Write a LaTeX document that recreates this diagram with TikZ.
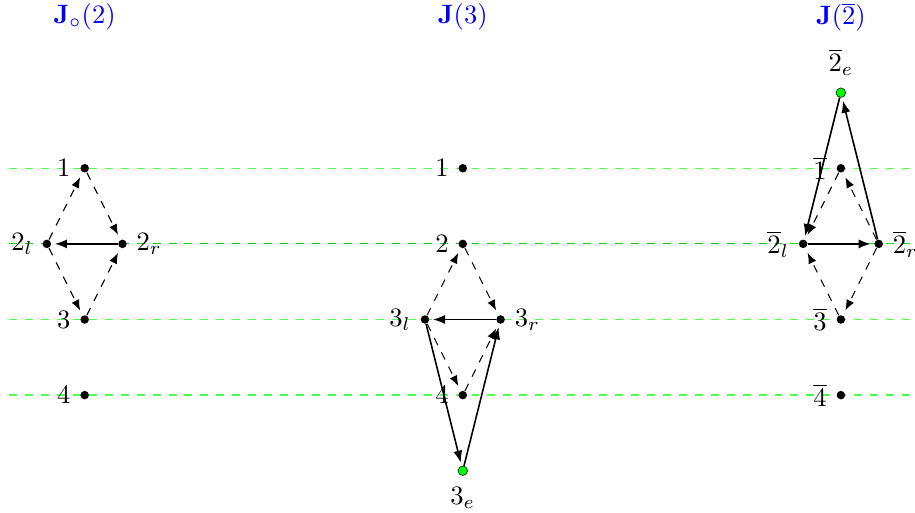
\documentclass[tikz,border=0pt]{standalone}
\usepackage{amsmath}
\usepackage{amssymb}
\usepackage{tikz}
\usetikzlibrary{arrows.meta}

\begin{document}
\begin{tikzpicture}[
  dot/.style={circle, fill=black, inner sep=0pt, minimum size=3.2pt},
  edot/.style={circle, draw=black, fill=green, inner sep=0pt, minimum size=3.6pt, very thin},
  ttl/.style={text=blue},
  lvl/.style={green!70, dashed, line width=0.5pt},
  lvlb/.style={green!85!black, dashed, line width=0.3pt},
  arr/.style={-{Latex[length=1.6mm, width=1.2mm]}, semithick, shorten >=1.2pt},
  darr/.style={-{Latex[length=1.4mm, width=1.1mm]}, thin, dashed, shorten >=2pt},
]
\useasboundingbox (-6.12,-4.55) rectangle (5.98,2.225);

% level lines
\foreach \y in {0,-2,-3}
  \draw[lvl] (-6,\y) -- (6,\y);
\draw[lvlb] (-6,-1) -- (6,-1);

% titles
\node[ttl] (tl) at (-5,2) {$\mathbf{J}_\circ(2)$};
\node[ttl] (tm) at (0,2) {$\mathbf{J}(3)$};
\node[ttl] (tr) at (5,2) {$\mathbf{J}(\overline{2})$};

% J_o(2)
\node[dot, label=left:$1$] (l1) at (-5,0) {};
\node[dot, label=left:$2_l$] (l2l) at (-5.5,-1) {};
\node[dot, label=right:$2_r$] (l2r) at (-4.5,-1) {};
\node[dot, label=left:$3$] (l3) at (-5,-2) {};
\node[dot, label=left:$4$] (l4) at (-5,-3) {};
\draw[darr] (l2l) -- (l1);
\draw[darr] (l1) -- (l2r);
\draw[darr] (l2l) -- (l3);
\draw[darr] (l3) -- (l2r);
\draw[arr] (l2r) -- (l2l);

% J(3)
\node[dot, label=left:$1$] (m1) at (0,0) {};
\node[dot, label=left:$2$] (m2) at (0,-1) {};
\node[dot, label=left:$3_l$] (m3l) at (-0.5,-2) {};
\node[dot, label=right:$3_r$] (m3r) at (0.5,-2) {};
\node[dot, label=left:$4$] (m4) at (0,-3) {};
\node[edot, label={[yshift=-1pt]below:$3_e$}] (m3e) at (0,-4) {};
\draw[darr] (m3l) -- (m2);
\draw[darr] (m2) -- (m3r);
\draw[darr] (m3l) -- (m4);
\draw[darr] (m4) -- (m3r);
\draw[arr] (m3r) -- (m3l);
\draw[arr] (m3l) -- (m3e);
\draw[arr] (m3e) -- (m3r);

% J(2bar)
\node[edot, label={[yshift=1pt]above:$\overline{2}_e$}] (r2e) at (5,1) {};
\node[dot, label=left:$\overline{1}$] (r1) at (5,0) {};
\node[dot, label=left:$\overline{2}_l$] (r2l) at (4.5,-1) {};
\node[dot, label=right:$\overline{2}_r$] (r2r) at (5.5,-1) {};
\node[dot, label=left:$\overline{3}$] (r3) at (5,-2) {};
\node[dot, label=left:$\overline{4}$] (r4) at (5,-3) {};
\draw[darr] (r1) -- (r2l);
\draw[darr] (r2r) -- (r1);
\draw[darr] (r3) -- (r2l);
\draw[darr] (r2r) -- (r3);
\draw[arr] (r2l) -- (r2r);
\draw[arr] (r2e) -- (r2l);
\draw[arr] (r2r) -- (r2e);
\end{tikzpicture}
\end{document}
